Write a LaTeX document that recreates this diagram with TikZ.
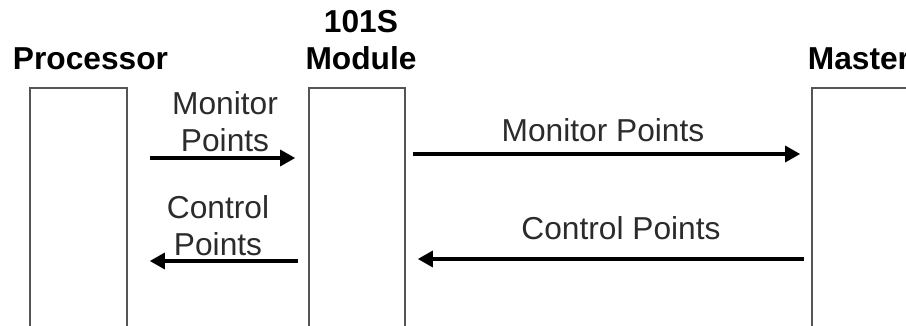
\documentclass[tikz,border=0pt]{standalone}
\usepackage{fontspec}
\setmainfont{Liberation Sans}
\usepackage{xcolor}
\usetikzlibrary{arrows.meta,positioning}

\definecolor{boxgray}{HTML}{555555}
\definecolor{labelgray}{HTML}{2B2B2B}

\begin{document}
\begin{tikzpicture}[x=0.5pt,y=-0.5pt,
        unit/.style={draw=boxgray,line width=0.8pt,minimum height=132pt,inner sep=0pt},
        head/.style={font=\fontsize{15.85}{18.5}\selectfont\bfseries,inner sep=0pt,align=center},
        lbl/.style={font=\fontsize{15.85}{18.5}\selectfont,text=labelgray,inner sep=0pt,align=center},
        flow/.style={line width=1.6pt,-{Triangle[length=7.5pt,width=8pt]}}]
        \useasboundingbox (0,0) rectangle (906,326);
        \clip (0,0) rectangle (906,326);
        % boxes
        \node[unit,minimum width=48.5pt] (proc) at (78.5,220) {};
        \node[unit,minimum width=48pt] (mod) at (357,220) {};
        \node[unit,minimum width=49pt] (mast) at (861,220) {};
        \node[head,above=8.5pt of proc.north,xshift=6pt] (proctxt) {Processor};
        \node[head,above=8.5pt of mod.north,xshift=2pt] (modtxt) {101S\\Module};
        \node[head,above=8.5pt of mast.north,xshift=-1pt] (masttxt) {Master};
        % rows of the arrows
        \coordinate (rowa) at (0,158);
        \coordinate (rowb) at (0,261);
        \coordinate (rowc) at (0,154);
        \coordinate (rowd) at (0,259);
        \draw[flow,shorten <=11pt,shorten >=6.5pt] (proc.east |- rowa) -- (mod.west |- rowa);
        \draw[flow,shorten <=5pt,shorten >=11pt] (mod.west |- rowb) -- (proc.east |- rowb);
        \draw[flow,shorten <=3.5pt,shorten >=5.5pt] (mod.east |- rowc) -- (mast.west |- rowc);
        \draw[flow,shorten <=3.5pt,shorten >=6pt] (mast.west |- rowd) -- (mod.east |- rowd);
        % labels
        \node[lbl] (mona) at (225,121.5) {Monitor\\Points};
        \node[lbl] (cona) at (218,225.5) {Control\\Points};
        \node[lbl] (monb) at (603,130) {Monitor Points};
        \node[lbl] (conb) at (621,228) {Control Points};
    \end{tikzpicture}
\end{document}
